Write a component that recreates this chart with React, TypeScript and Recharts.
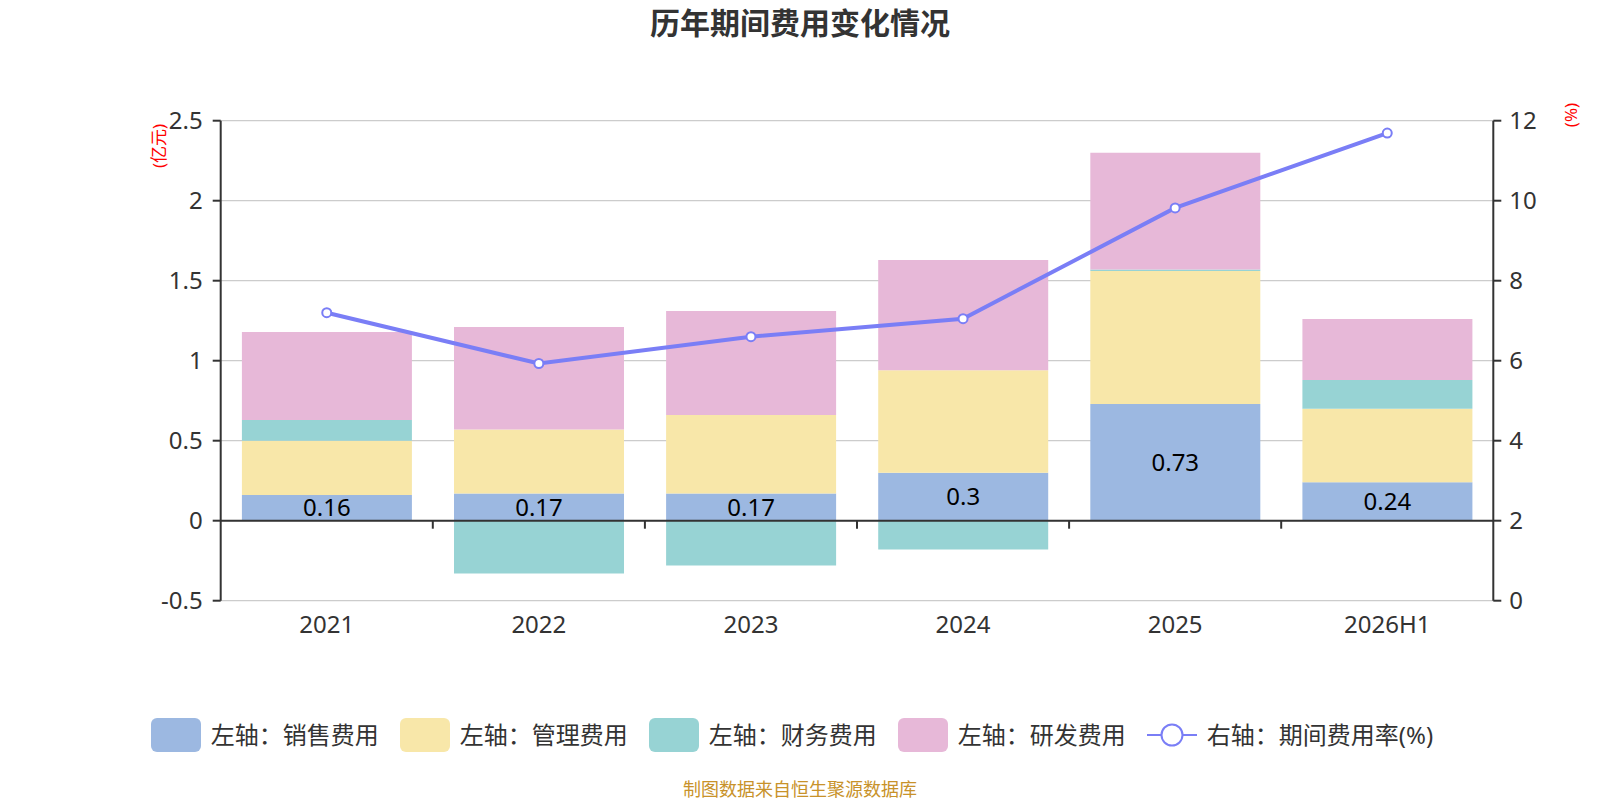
import React from 'react'
import {
  ComposedChart,
  Bar,
  Line,
  XAxis,
  YAxis,
  CartesianGrid,
  ReferenceLine,
  LabelList,
} from 'recharts'

// 数据（亿元 / %）
const categories = ['2021', '2022', '2023', '2024', '2025', '2026H1']
const salesExpense = [0.16, 0.17, 0.17, 0.3, 0.73, 0.24]
const adminExpense = [0.34, 0.4, 0.49, 0.64, 0.83, 0.46]
const financeExpense = [0.13, -0.33, -0.28, -0.18, 0.01, 0.18]
const rdExpense = [0.55, 0.64, 0.65, 0.69, 0.73, 0.38]
const expenseRate = [7.2, 5.93, 6.6, 7.05, 9.82, 11.69]

const leftTicks = [-0.5, 0, 0.5, 1, 1.5, 2, 2.5]
const rightTicks = [0, 2, 4, 6, 8, 10, 12]

const COLORS = {
  sales: '#9cb8e1',
  admin: '#f8e7a9',
  finance: '#97d3d4',
  rd: '#e7b8d8',
  rate: '#7a7ef6',
}

const legendItems = [
  { name: '左轴：销售费用', color: COLORS.sales, type: 'rect' },
  { name: '左轴：管理费用', color: COLORS.admin, type: 'rect' },
  { name: '左轴：财务费用', color: COLORS.finance, type: 'rect' },
  { name: '左轴：研发费用', color: COLORS.rd, type: 'rect' },
  { name: '右轴：期间费用率(%)', color: COLORS.rate, type: 'line' },
]

const data = categories.map((c, i) => ({
  name: c,
  sales: salesExpense[i],
  admin: adminExpense[i],
  finance: financeExpense[i],
  rd: rdExpense[i],
  rate: expenseRate[i],
}))

const FONT = '"Noto Sans", "Noto Sans CJK SC", sans-serif'
const TEXT = '#333'

// 零轴上的类目分隔刻度
function ZeroTicks(props: any) {
  const vb = props.viewBox
  if (!vb) return null
  const { x, y, width } = vb
  const n = categories.length
  const marks = []
  for (let k = 1; k < n; k++) {
    const tx = x + (width * k) / n
    marks.push(<line key={k} x1={tx} x2={tx} y1={y} y2={y + 8} stroke={TEXT} strokeWidth={2} />)
  }
  return <g>{marks}</g>
}

function LegendBar() {
  return (
    <div
      style={{
        position: 'absolute',
        left: -8,
        top: 718,
        width: 1600,
        height: 34,
        display: 'flex',
        justifyContent: 'center',
        alignItems: 'center',
        gap: 21,
        fontSize: 24,
        color: TEXT,
      }}
    >
      {legendItems.map((it) => (
        <div key={it.name} style={{ display: 'flex', alignItems: 'center', gap: 10 }}>
          {it.type === 'rect' ? (
            <div style={{ width: 50, height: 34, borderRadius: 6, background: it.color }} />
          ) : (
            <svg width={50} height={34}>
              <line x1={0} x2={50} y1={17} y2={17} stroke={it.color} strokeWidth={2} />
              <circle cx={25} cy={17} r={10.5} fill="#fff" stroke={it.color} strokeWidth={2} />
            </svg>
          )}
          <span style={{ lineHeight: '34px' }}>{it.name}</span>
        </div>
      ))}
    </div>
  )
}

export default function App() {
  return (
    <div
      style={{
        position: 'absolute',
        left: 0,
        top: 0,
        width: 1600,
        height: 800,
        background: '#fff',
        fontFamily: FONT,
      }}
    >
      <div
        style={{
          position: 'absolute',
          left: 0,
          top: 3,
          width: 1600,
          textAlign: 'center',
          fontSize: 30,
          fontWeight: 'bold',
          lineHeight: '40px',
          color: TEXT,
        }}
      >
        历年期间费用变化情况
      </div>

      <div
        style={{
          position: 'absolute',
          left: 159 - 30,
          top: 146 - 10,
          width: 60,
          lineHeight: '20px',
          textAlign: 'center',
          fontSize: 17,
          color: 'red',
          transform: 'rotate(-90deg)',
        }}
      >
        (亿元)
      </div>
      <div
        style={{
          position: 'absolute',
          left: 1571 - 30,
          top: 115 - 10,
          width: 60,
          lineHeight: '20px',
          textAlign: 'center',
          fontSize: 17,
          color: 'red',
          transform: 'rotate(-90deg)',
        }}
      >
        (%)
      </div>

      <div style={{ position: 'absolute', left: 0, top: 0 }}>
        <ComposedChart
          width={1600}
          height={800}
          data={data}
          stackOffset="sign"
          barCategoryGap="10%"
          margin={{ top: 120.7, right: 46.7, bottom: 169.3, left: 160.7 }}
        >
          <CartesianGrid yAxisId="left" vertical={false} stroke="#cccccc" strokeWidth={1.3} />
          <XAxis
            dataKey="name"
            height={30}
            axisLine={false}
            tickLine={false}
            tickSize={0}
            tickMargin={15}
            tick={{ fill: TEXT, fontSize: 24 }}
            interval={0}
          />
          <YAxis
            yAxisId="left"
            width={60}
            domain={[-0.5, 2.5]}
            ticks={leftTicks}
            allowDataOverflow
            axisLine={{ stroke: TEXT, strokeWidth: 2 }}
            tickLine={{ stroke: TEXT, strokeWidth: 2 }}
            tickSize={8}
            tickMargin={10}
            tick={{ fill: TEXT, fontSize: 24 }}
          />
          <YAxis
            yAxisId="right"
            orientation="right"
            width={60}
            domain={[0, 12]}
            ticks={rightTicks}
            allowDataOverflow
            axisLine={{ stroke: TEXT, strokeWidth: 2 }}
            tickLine={{ stroke: TEXT, strokeWidth: 2 }}
            tickSize={8}
            tickMargin={8}
            tick={{ fill: TEXT, fontSize: 24 }}
          />
          <Bar yAxisId="left" dataKey="sales" stackId="a" fill={COLORS.sales} isAnimationActive={false}>
            <LabelList dataKey="sales" position="center" fill="#000" fontSize={24} />
          </Bar>
          <Bar yAxisId="left" dataKey="admin" stackId="a" fill={COLORS.admin} isAnimationActive={false} />
          <Bar yAxisId="left" dataKey="finance" stackId="a" fill={COLORS.finance} isAnimationActive={false} />
          <Bar yAxisId="left" dataKey="rd" stackId="a" fill={COLORS.rd} isAnimationActive={false} />
          <ReferenceLine yAxisId="left" y={0} stroke={TEXT} strokeWidth={2} label={<ZeroTicks />} />
          <Line
            yAxisId="right"
            type="linear"
            dataKey="rate"
            stroke={COLORS.rate}
            strokeWidth={4}
            dot={{ r: 4.5, fill: '#fff', stroke: COLORS.rate, strokeWidth: 2 }}
            activeDot={false}
            isAnimationActive={false}
          />
        </ComposedChart>
      </div>

      <LegendBar />

      <div
        style={{
          position: 'absolute',
          left: 0,
          top: 778,
          width: 1600,
          textAlign: 'center',
          fontSize: 18,
          lineHeight: '22px',
          color: '#c8922a',
        }}
      >
        制图数据来自恒生聚源数据库
      </div>
    </div>
  )
}
